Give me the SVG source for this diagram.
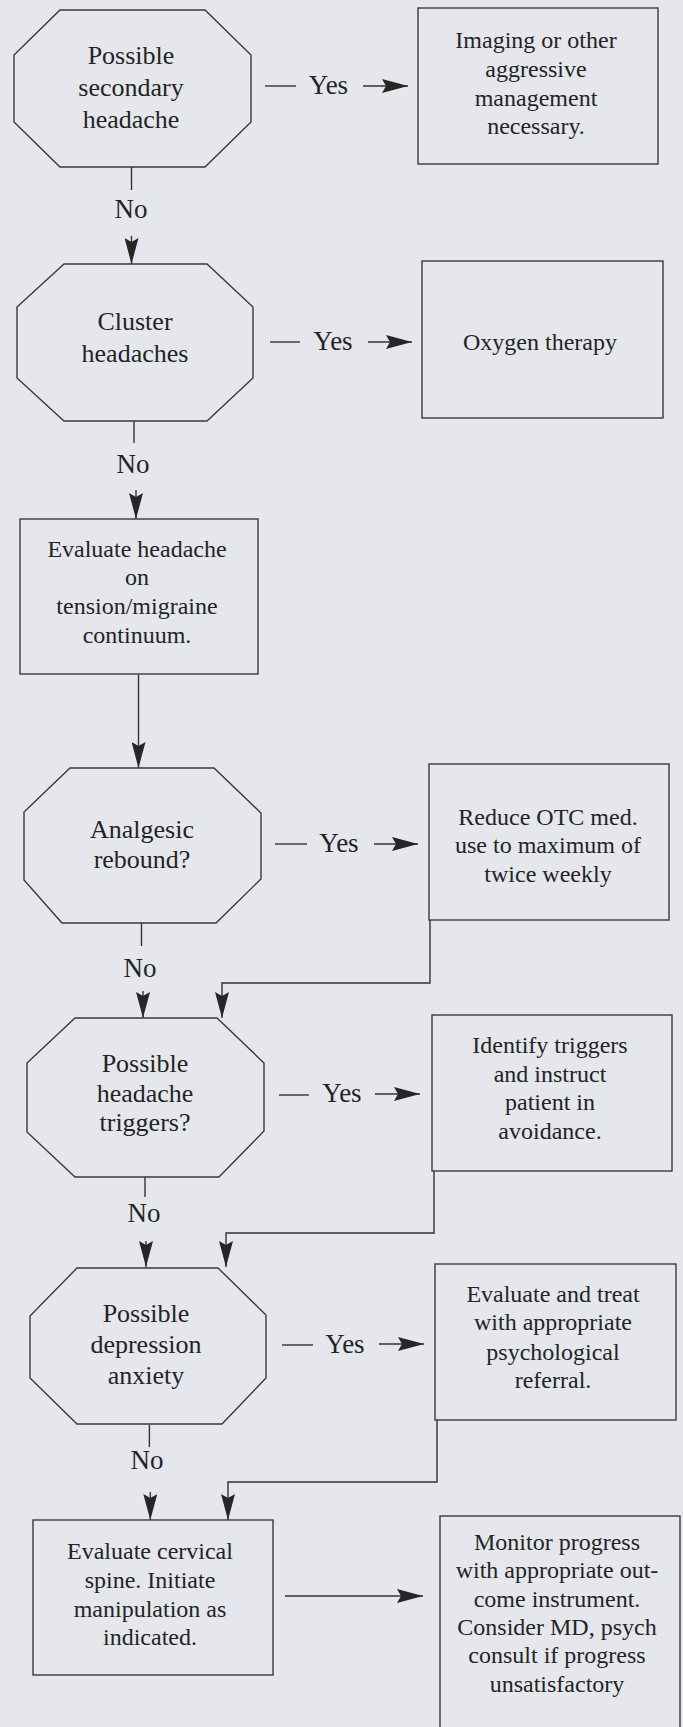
<svg xmlns="http://www.w3.org/2000/svg" width="683" height="1727" viewBox="0 0 683 1727">
<defs>
<marker id="ah" markerUnits="userSpaceOnUse" viewBox="0 0 26 14" refX="26" refY="7" markerWidth="26" markerHeight="14" orient="auto">
<path d="M0,0 L26,7 L0,14 L4,7 Z" fill="#262626"/>
</marker>
<style>
.bg{fill:#e5e7ec}
.sh{fill:none;stroke:#3a3a3a;stroke-width:1.4}
.c{fill:none;stroke:#333;stroke-width:1.4}
.a{fill:none;stroke:#333;stroke-width:1.4;marker-end:url(#ah)}
text{font-family:"Liberation Serif","Times New Roman",serif;fill:#242424;text-anchor:middle}
.o{font-size:26px}
.b{font-size:24px}
.l{font-size:27px}
</style>
</defs>
<rect class="bg" x="0" y="0" width="683" height="1727"/>

<g id="connectors">
<line class="c" x1="131.5" y1="167" x2="131.5" y2="190"/>
<text class="l" x="131" y="218">No</text>
<line class="a" x1="131.5" y1="236" x2="131.5" y2="264"/>
<line class="c" x1="265" y1="86" x2="296" y2="86"/>
<text class="l" x="328.5" y="94">Yes</text>
<line class="a" x1="363" y1="86" x2="408" y2="86"/>

<line class="c" x1="134" y1="421" x2="134" y2="443"/>
<text class="l" x="133" y="473">No</text>
<line class="a" x1="136" y1="490" x2="136" y2="519"/>
<line class="c" x1="270" y1="342" x2="300" y2="342"/>
<text class="l" x="333" y="350">Yes</text>
<line class="a" x1="368" y1="342" x2="412" y2="342"/>

<line class="a" x1="138.5" y1="675" x2="138.5" y2="768"/>

<line class="c" x1="141.5" y1="923" x2="141.5" y2="946"/>
<text class="l" x="140" y="977">No</text>
<line class="a" x1="143" y1="991" x2="143" y2="1018"/>
<line class="c" x1="275" y1="844" x2="307" y2="844"/>
<text class="l" x="339" y="852">Yes</text>
<line class="a" x1="374" y1="844" x2="418" y2="844"/>
<path class="a" d="M430,920 V983 H222 V1018"/>

<line class="c" x1="145" y1="1177" x2="145" y2="1197"/>
<text class="l" x="144" y="1222">No</text>
<line class="a" x1="146" y1="1241" x2="146" y2="1267"/>
<line class="c" x1="279" y1="1095" x2="309" y2="1095"/>
<text class="l" x="342" y="1102">Yes</text>
<line class="a" x1="375" y1="1094" x2="420" y2="1094"/>
<path class="a" d="M434,1171 V1233 H226 V1267"/>

<line class="c" x1="149.4" y1="1425" x2="149.4" y2="1447"/>
<text class="l" x="147" y="1469">No</text>
<line class="a" x1="150.3" y1="1492" x2="150.3" y2="1520"/>
<line class="c" x1="282" y1="1345" x2="313" y2="1345"/>
<text class="l" x="345" y="1353">Yes</text>
<line class="a" x1="379" y1="1344" x2="424" y2="1344"/>
<path class="a" d="M437,1420 V1482 H228 V1520"/>

<line class="a" x1="285" y1="1596" x2="423" y2="1596"/>
</g>

<g id="n1">
<polygon class="sh" points="60,10 205,10 251,55 251,122 205,167 60,167 14,122 14,55"/>
<text class="o" x="131" y="64">Possible</text>
<text class="o" x="131" y="96">secondary</text>
<text class="o" x="131" y="128">headache</text>
</g>
<g id="n2">
<rect class="sh" x="418" y="8" width="240" height="156"/>
<text class="b" x="536" y="48">Imaging or other</text>
<text class="b" x="536" y="77">aggressive</text>
<text class="b" x="536" y="106">management</text>
<text class="b" x="536" y="134">necessary.</text>
</g>
<g id="n3">
<polygon class="sh" points="64,264 207,264 253,307 253,378 207,421 64,421 17,378 17,307"/>
<text class="o" x="135" y="330">Cluster</text>
<text class="o" x="135" y="362">headaches</text>
</g>
<g id="n4">
<rect class="sh" x="422" y="261" width="241" height="157"/>
<text class="b" x="540" y="350">Oxygen therapy</text>
</g>
<g id="n5">
<rect class="sh" x="20" y="519" width="238" height="155"/>
<text class="b" x="137" y="557">Evaluate headache</text>
<text class="b" x="137" y="585">on</text>
<text class="b" x="137" y="614">tension/migraine</text>
<text class="b" x="137" y="643">continuum.</text>
</g>
<g id="n6">
<polygon class="sh" points="70,768 214,768 261,813 261,879 216,923 62,923 24,880 24,812"/>
<text class="o" x="142" y="838">Analgesic</text>
<text class="o" x="142" y="868">rebound?</text>
</g>
<g id="n7">
<rect class="sh" x="429" y="764" width="240" height="156"/>
<text class="b" x="548" y="825">Reduce OTC med.</text>
<text class="b" x="548" y="853">use to maximum of</text>
<text class="b" x="548" y="882">twice weekly</text>
</g>
<g id="n8">
<polygon class="sh" points="75,1018 217,1018 264,1063 264,1131 219,1177 75,1177 27,1132 27,1063"/>
<text class="o" x="145" y="1072">Possible</text>
<text class="o" x="145" y="1102">headache</text>
<text class="o" x="145" y="1131">triggers?</text>
</g>
<g id="n9">
<rect class="sh" x="432" y="1015" width="240" height="156"/>
<text class="b" x="550" y="1053">Identify triggers</text>
<text class="b" x="550" y="1082">and instruct</text>
<text class="b" x="550" y="1110">patient in</text>
<text class="b" x="550" y="1139">avoidance.</text>
</g>
<g id="n10">
<polygon class="sh" points="77,1268 218,1268 266,1315 266,1378 222,1424 77,1424 30,1378 30,1316"/>
<text class="o" x="146" y="1322">Possible</text>
<text class="o" x="146" y="1353">depression</text>
<text class="o" x="146" y="1384">anxiety</text>
</g>
<g id="n11">
<rect class="sh" x="435" y="1264" width="241" height="156"/>
<text class="b" x="553" y="1302">Evaluate and treat</text>
<text class="b" x="553" y="1330">with appropriate</text>
<text class="b" x="553" y="1360">psychological</text>
<text class="b" x="553" y="1388">referral.</text>
</g>
<g id="n12">
<rect class="sh" x="33" y="1520" width="240" height="155"/>
<text class="b" x="150" y="1559">Evaluate cervical</text>
<text class="b" x="150" y="1588">spine. Initiate</text>
<text class="b" x="150" y="1617">manipulation as</text>
<text class="b" x="150" y="1645">indicated.</text>
</g>
<g id="n13">
<rect class="sh" x="440" y="1516" width="240" height="230"/>
<text class="b" x="557" y="1550">Monitor progress</text>
<text class="b" x="557" y="1578">with appropriate out-</text>
<text class="b" x="557" y="1607">come instrument.</text>
<text class="b" x="557" y="1635">Consider MD, psych</text>
<text class="b" x="557" y="1663">consult if progress</text>
<text class="b" x="557" y="1692">unsatisfactory</text>
</g>
</svg>
